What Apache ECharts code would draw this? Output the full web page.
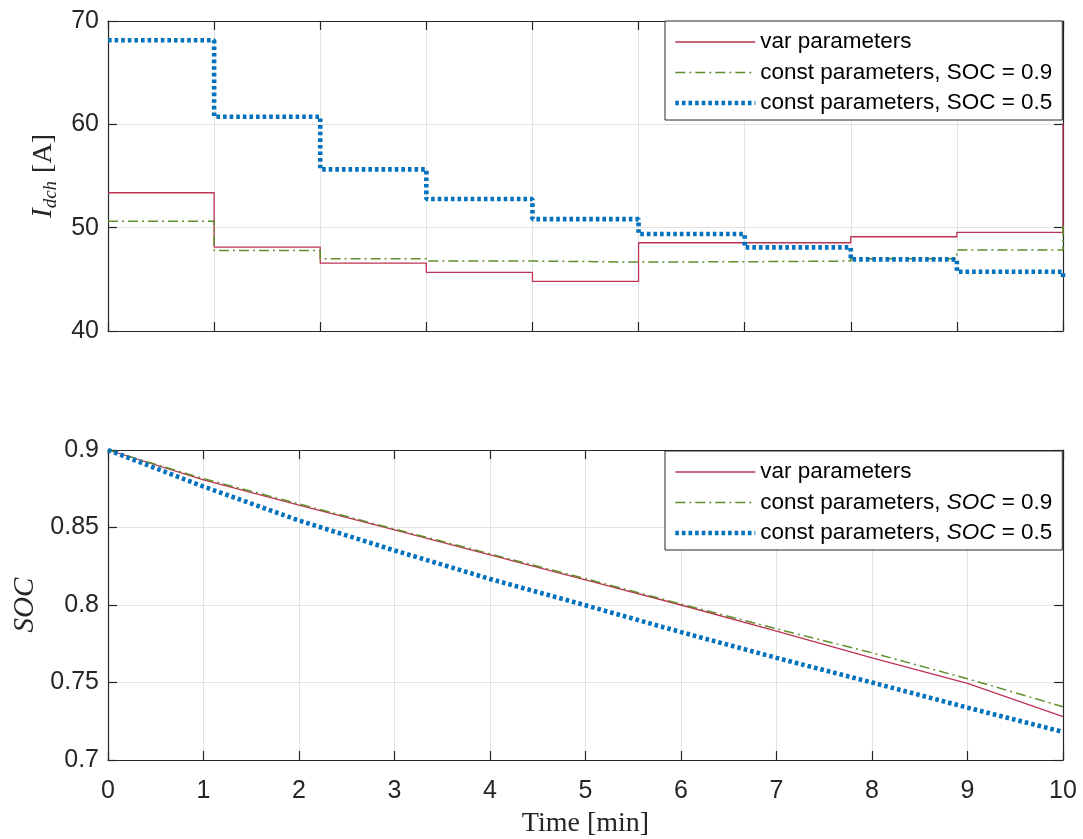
<!DOCTYPE html>
<html>
<head>
<meta charset="utf-8">
<script src="https://cdn.jsdelivr.net/npm/echarts@6/dist/echarts.min.js"></script>
<style>
html,body{margin:0;padding:0;background:#fff;}
#chart{width:1083px;height:839px;}
</style>
</head>
<body>
<div id="chart"></div>
<script>
// ---- Data ----
// Top plot: step boundaries (top axis has 9 equal intervals across the 0-10 min span)
const stepIndex = [0, 1, 2, 3, 4, 5, 6, 7, 8, 9];
const idchVar     = [53.38, 48.12, 46.57, 45.67, 44.80, 48.54, 48.54, 49.12, 49.55, 60.10];
const idchConst09 = [50.61, 47.80, 46.99, 46.77, 46.67, 46.70, 46.77, 46.99, 47.83, 50.57];
const idchConst05 = [68.13, 60.74, 55.64, 52.77, 50.83, 49.38, 48.09, 46.93, 45.73, 44.93];

// Bottom plot: SOC vs time [min]
const timeMin    = [0, 1, 2, 3, 4, 5, 6, 7, 8, 9, 10];
const socVar     = [0.9, 0.8807, 0.8644, 0.8485, 0.8324, 0.8162, 0.8000, 0.7831, 0.7659, 0.7494, 0.7280];
const socConst09 = [0.9, 0.8815, 0.8652, 0.8490, 0.8330, 0.8170, 0.8006, 0.7846, 0.7692, 0.7524, 0.7344];
const socConst05 = [0.9, 0.8764, 0.8545, 0.8352, 0.8168, 0.7998, 0.7825, 0.7659, 0.7500, 0.7338, 0.7181];

const seriesNames = ['var parameters', 'const parameters, SOC = 0.9', 'const parameters, SOC = 0.5'];
const yTicksTop = [40, 50, 60, 70];
const yTicksBottom = [0.7, 0.75, 0.8, 0.85, 0.9];

// ---- Styles ----
const TXT = '#262626';
const GRIDC = '#e3e3e3';
const SANS = 'Liberation Sans, Arial, sans-serif';
const SERIF = 'Liberation Serif, Times New Roman, serif';
const styles = [
  {color: '#BE3353', width: 1.3, type: 'solid'},
  {color: '#5F8F2B', width: 1.5, type: [10, 4, 2, 4]},
  {color: '#0072BD', width: 4.6, type: [3.6, 3]}
];

function zip(xs, ys) { return xs.map((x, i) => [x, ys[i]]); }

function boxAxis(gridIndex, pos, min, max, interval, opts) {
  return Object.assign({
    type: 'value', gridIndex: gridIndex, position: pos, min: min, max: max, interval: interval,
    axisLine: {show: true, onZero: false, lineStyle: {color: TXT, width: 1.2}},
    axisTick: {show: true, inside: true, length: 9, lineStyle: {color: TXT, width: 1.2}},
    axisLabel: {show: false},
    splitLine: {show: false}
  }, opts || {});
}

const chart = echarts.init(document.getElementById('chart'), null, {renderer: 'canvas'});

const legendCommon = {
  orient: 'vertical',
  left: 665,
  backgroundColor: '#fff',
  borderColor: TXT,
  borderWidth: 1,
  padding: [9, 10, 5, 8],
  itemWidth: 80,
  itemHeight: 14,
  itemGap: 6.5,
  itemStyle: {opacity: 0, color: 'transparent', borderWidth: 0},
  lineStyle: {width: 'inherit', type: 'inherit', color: 'inherit'},
  data: seriesNames,
  textStyle: {color: '#000', fontFamily: SANS, fontSize: 22.5, lineHeight: 24}
};

const option = {
  animation: false,
  backgroundColor: '#fff',
  grid: [
    {left: 108, right: 20, top: 21, height: 310},
    {left: 108, right: 20, top: 450, height: 311}
  ],
  legend: [
    Object.assign({}, legendCommon, {top: 21}),
    Object.assign({}, legendCommon, {
      top: 451,
      formatter: function (name) {
        return name.replace('SOC', '{i|SOC}');
      },
      textStyle: Object.assign({}, legendCommon.textStyle, {
        rich: {i: {fontStyle: 'italic', fontFamily: SANS, fontSize: 22.5, color: '#000'}}
      })
    })
  ],
  xAxis: [
    boxAxis(0, 'bottom', 0, 9, 1, {splitLine: {show: true, lineStyle: {color: GRIDC, width: 1}}}),
    boxAxis(0, 'top', 0, 9, 1),
    boxAxis(1, 'bottom', 0, 10, 1, {
      splitLine: {show: true, lineStyle: {color: GRIDC, width: 1}},
      axisLabel: {show: true, color: TXT, fontFamily: SANS, fontSize: 25, margin: 19},
      name: 'Time [min]', nameLocation: 'middle', nameGap: 50,
      nameTextStyle: {color: TXT, fontFamily: SERIF, fontSize: 28}
    }),
    boxAxis(1, 'top', 0, 10, 1)
  ],
  yAxis: [
    boxAxis(0, 'left', yTicksTop[0], yTicksTop[yTicksTop.length - 1], 10, {
      splitLine: {show: true, lineStyle: {color: GRIDC, width: 1}},
      axisLabel: {show: true, color: TXT, fontFamily: SANS, fontSize: 25, margin: 9},
      name: '{i|I}{s|dch}{n|[A]}', nameLocation: 'middle', nameGap: 48, nameRotate: 90,
      nameTextStyle: {
        color: TXT,
        rich: {
          i: {fontFamily: SERIF, fontStyle: 'italic', fontSize: 29, color: TXT},
          s: {fontFamily: SERIF, fontStyle: 'italic', fontSize: 19, color: TXT, padding: [14, 8, 0, 0]},
          n: {fontFamily: SERIF, fontSize: 28, color: TXT}
        }
      }
    }),
    boxAxis(0, 'right', yTicksTop[0], yTicksTop[yTicksTop.length - 1], 10),
    boxAxis(1, 'left', yTicksBottom[0], yTicksBottom[yTicksBottom.length - 1], 0.05, {
      splitLine: {show: true, lineStyle: {color: GRIDC, width: 1}},
      axisLabel: {show: true, color: TXT, fontFamily: SANS, fontSize: 25, margin: 9,
        formatter: v => String(+(+v).toFixed(2))},
      name: 'SOC', nameLocation: 'middle', nameGap: 68, nameRotate: 90,
      nameTextStyle: {color: TXT, fontFamily: SERIF, fontStyle: 'italic', fontSize: 29}
    }),
    boxAxis(1, 'right', yTicksBottom[0], yTicksBottom[yTicksBottom.length - 1], 0.05)
  ],
  series: [
    {name: seriesNames[0], type: 'line', step: 'end', xAxisIndex: 0, yAxisIndex: 0,
     data: zip(stepIndex, idchVar), symbol: 'none', lineStyle: styles[0], itemStyle: {color: styles[0].color}},
    {name: seriesNames[1], type: 'line', step: 'end', xAxisIndex: 0, yAxisIndex: 0,
     data: zip(stepIndex, idchConst09), symbol: 'none', lineStyle: styles[1], itemStyle: {color: styles[1].color}},
    {name: seriesNames[2], type: 'line', step: 'end', xAxisIndex: 0, yAxisIndex: 0,
     data: zip(stepIndex, idchConst05), symbol: 'none', lineStyle: styles[2], itemStyle: {color: styles[2].color}},
    {name: seriesNames[0], type: 'line', xAxisIndex: 2, yAxisIndex: 2,
     data: zip(timeMin, socVar), symbol: 'none', lineStyle: styles[0], itemStyle: {color: styles[0].color}},
    {name: seriesNames[1], type: 'line', xAxisIndex: 2, yAxisIndex: 2,
     data: zip(timeMin, socConst09), symbol: 'none', lineStyle: styles[1], itemStyle: {color: styles[1].color}},
    {name: seriesNames[2], type: 'line', xAxisIndex: 2, yAxisIndex: 2,
     data: zip(timeMin, socConst05), symbol: 'none', lineStyle: styles[2], itemStyle: {color: styles[2].color}}
  ]
};
chart.setOption(option);
</script>
</body>
</html>
